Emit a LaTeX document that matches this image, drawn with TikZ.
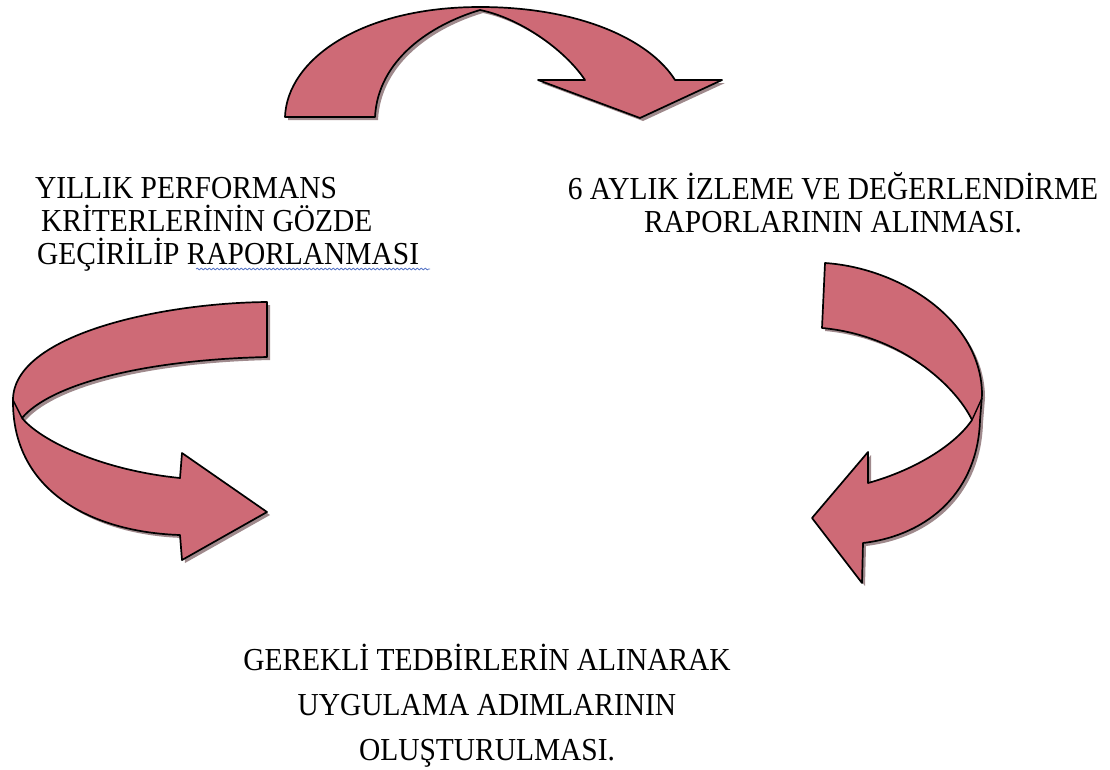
\documentclass[tikz,border=0pt]{standalone}
\usepackage{fontspec}
\setmainfont{Liberation Serif}[FakeStretch=0.92]
\usetikzlibrary{decorations.pathmorphing}
\definecolor{arrowfill}{RGB}{206,106,118}
\definecolor{arrowshade}{RGB}{80,40,45}
\definecolor{squiggle}{RGB}{90,120,200}
\newcommand{\toparrowpath}{(285,117) .. controls (287,60) and (360,7) .. (480,7)
  .. controls (580,7) and (650,40) .. (675,80) -- (722,80) -- (640,118) -- (538,80) -- (585,80)
  .. controls (565,50) and (520,18) .. (480,10)
  .. controls (430,25) and (378,60) .. (375,117) -- cycle}
\newcommand{\rightarrowpath}{(825,263) .. controls (900,268) and (982,320) .. (982,395)
  -- (980,420) .. controls (978,490) and (930,535) .. (863,543)
  -- (862,583) -- (812,518) -- (868,452) -- (868,483)
  .. controls (915,470) and (955,445) .. (972,420)
  .. controls (955,385) and (900,335) .. (822,328) -- cycle}
\newcommand{\leftarrowpath}{(267,302) .. controls (160,303) and (13,335) .. (13,400)
  .. controls (12,490) and (90,532) .. (180,535)
  -- (182,560) -- (267,512) -- (182,453) -- (180,478)
  .. controls (100,470) and (40,440) .. (22,418)
  .. controls (50,385) and (140,360) .. (267,357) -- cycle}
\begin{document}
\begin{tikzpicture}[x=1pt,y=-1pt,
  shade/.style={fill=arrowshade,opacity=0.55},
  ribbon/.style={fill=arrowfill,draw=black,line width=1.7pt,line join=round},
  fold/.style={draw=black,line width=1.4pt},
  label/.style={inner sep=0pt,font={\fontsize{32}{33}\selectfont}},
  bottomlabel/.style={inner sep=0pt,align=center,font={\fontsize{32}{45}\selectfont}}]
\useasboundingbox (0,0) rectangle (1110,769);
% arrows
\fill[shade,shift={(3,3)}] \toparrowpath;
\filldraw[ribbon] \toparrowpath;
\fill[shade,shift={(3,3)}] \rightarrowpath;
\filldraw[ribbon] \rightarrowpath;
\draw[fold] (982,398) -- (972,420);
\fill[shade,shift={(3,3)}] \leftarrowpath;
\filldraw[ribbon] \leftarrowpath;
\draw[fold] (13,400) -- (22,418);
% labels
\node[label,align=left,anchor=base west] (tl) at (35,264)
  {YILLIK PERFORMANS\\\hspace{6pt}KRİTERLERİNİN GÖZDE\\\hspace{2pt}GEÇİRİLİP RAPORLANMASI};
\draw[squiggle,line width=0.8pt,decorate,decoration={snake,amplitude=0.9pt,segment length=4pt}]
  (196,269) -- (430,269);
\node[label,align=center,anchor=base] (tr) at (833,232)
  {6 AYLIK İZLEME VE DEĞERLENDİRME\\RAPORLARININ ALINMASI.};
\node[bottomlabel,anchor=base] (bot) at (487,760)
  {GEREKLİ TEDBİRLERİN ALINARAK\\UYGULAMA ADIMLARININ\\OLUŞTURULMASI.};
\end{tikzpicture}
\end{document}
